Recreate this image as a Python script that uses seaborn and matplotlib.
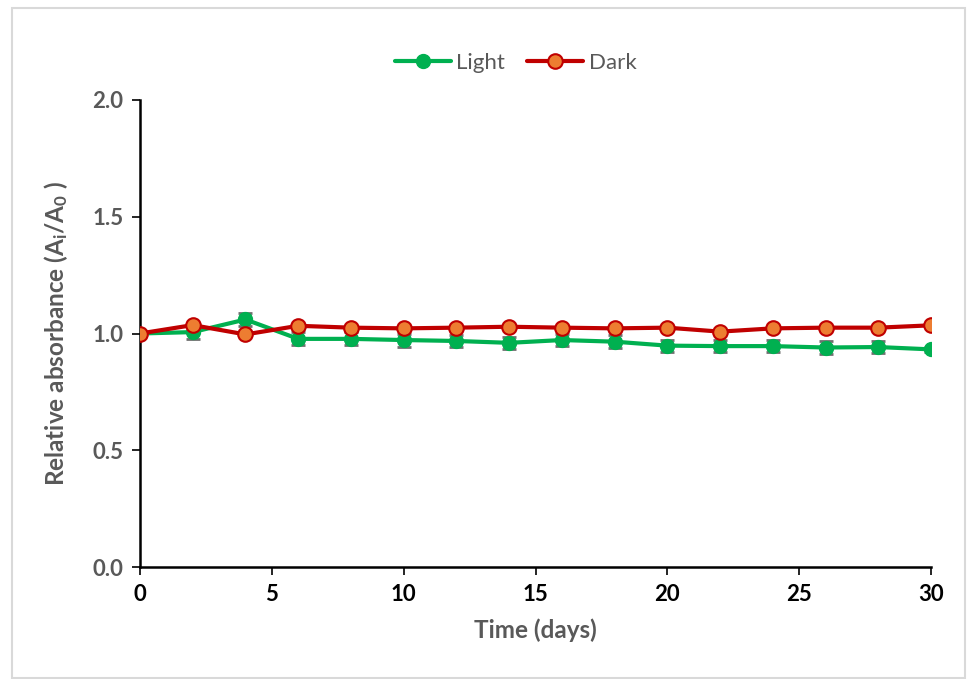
import matplotlib
matplotlib.use("Agg")
import matplotlib.pyplot as plt
import seaborn as sns
import pandas as pd
from matplotlib.patches import Rectangle

days = [0, 2, 4, 6, 8, 10, 12, 14, 16, 18, 20, 22, 24, 26, 28, 30]
light = [1.000, 1.006, 1.060, 0.977, 0.977, 0.972, 0.968, 0.960, 0.972, 0.965,
         0.948, 0.946, 0.946, 0.940, 0.942, 0.932]
light_err = [0.005, 0.028, 0.027, 0.028, 0.028, 0.028, 0.027, 0.026, 0.026, 0.027,
             0.026, 0.027, 0.026, 0.028, 0.026, 0.010]
dark = [1.000, 1.036, 0.996, 1.033, 1.025, 1.022, 1.025, 1.029, 1.025, 1.022,
        1.025, 1.008, 1.022, 1.025, 1.025, 1.035]
dark_err = [0.004, 0.005, 0.005, 0.005, 0.005, 0.005, 0.005, 0.005, 0.005, 0.005,
            0.005, 0.005, 0.005, 0.005, 0.005, 0.005]
x_ticks = [0, 5, 10, 15, 20, 25, 30]
y_ticks = [0.0, 0.5, 1.0, 1.5, 2.0]

sns.set_style("white")
plt.rcParams['font.family'] = ['Lato', 'DejaVu Sans']
plt.rcParams['mathtext.fontset'] = 'custom'
plt.rcParams['mathtext.rm'] = 'Lato:bold'
plt.rcParams['mathtext.bf'] = 'Lato:bold'
plt.rcParams['mathtext.it'] = 'Lato:bold'

df = pd.DataFrame({"day": days + days,
                   "value": light + dark,
                   "series": ["Light"] * len(days) + ["Dark"] * len(days)})

fig = plt.figure(figsize=(9.69, 6.79), dpi=100)
ax = fig.add_axes([140 / 969, 1 - 567 / 679, (931 - 140) / 969, (567 - 100) / 679])

green = "#00B050"
red = "#C00000"
orange = "#ED7D31"
gray = "#595959"

ax.errorbar(days, light, yerr=light_err, fmt="none", ecolor="#6F6F6F",
            elinewidth=1.2, capsize=5, capthick=2, zorder=2)
ax.errorbar(days, dark, yerr=dark_err, fmt="none", ecolor="#6F6F6F",
            elinewidth=1.2, capsize=5, capthick=2, zorder=2)

sns.lineplot(data=df[df.series == "Light"], x="day", y="value", ax=ax,
             color=green, linewidth=3, marker="o", markersize=10,
             markerfacecolor=green, markeredgecolor=green, markeredgewidth=1,
             label="Light", zorder=3)
sns.lineplot(data=df[df.series == "Dark"], x="day", y="value", ax=ax,
             color=red, linewidth=3, marker="o", markersize=10.5,
             markerfacecolor=orange, markeredgecolor=red, markeredgewidth=1.5,
             label="Dark", zorder=4)

ax.set_xlim(0, 30)
ax.set_ylim(0, 2.0)
ax.set_xticks(x_ticks)
ax.set_yticks(y_ticks)
ax.set_xticklabels([str(t) for t in x_ticks], fontsize=16, fontweight="bold", color="black")
ax.set_yticklabels([f"{t:.1f}" for t in y_ticks], fontsize=16, fontweight="bold", color=gray)
ax.tick_params(axis="both", direction="out", length=6, width=1.2, color="black",
               bottom=True, left=True, pad=6)

for s in ["top", "right"]:
    ax.spines[s].set_visible(False)
for s in ["left", "bottom"]:
    ax.spines[s].set_color("black")
    ax.spines[s].set_linewidth(1.8)
    ax.spines[s].set_clip_on(False)

ax.set_xlabel("Time (days)", fontsize=17.5, fontweight="bold", color=gray, labelpad=10)
ax.set_ylabel(r"Relative absorbance (A$_{i}$/A$_{0}$ )", fontsize=17.5,
              fontweight="bold", color=gray, labelpad=16)

leg = ax.legend(loc="lower center", bbox_to_anchor=(0.475, 1.015), ncol=2, frameon=False,
                fontsize=16, handlelength=2.5, columnspacing=1.0, handletextpad=0.25)
for t in leg.get_texts():
    t.set_color(gray)

fig.patches.append(Rectangle((12 / 969, 1 / 679), (965 - 12) / 969, (671 - 1) / 679,
                             transform=fig.transFigure, fill=False,
                             edgecolor="#D9D9D9", linewidth=1.5))

fig.savefig("out.png", dpi=100)
